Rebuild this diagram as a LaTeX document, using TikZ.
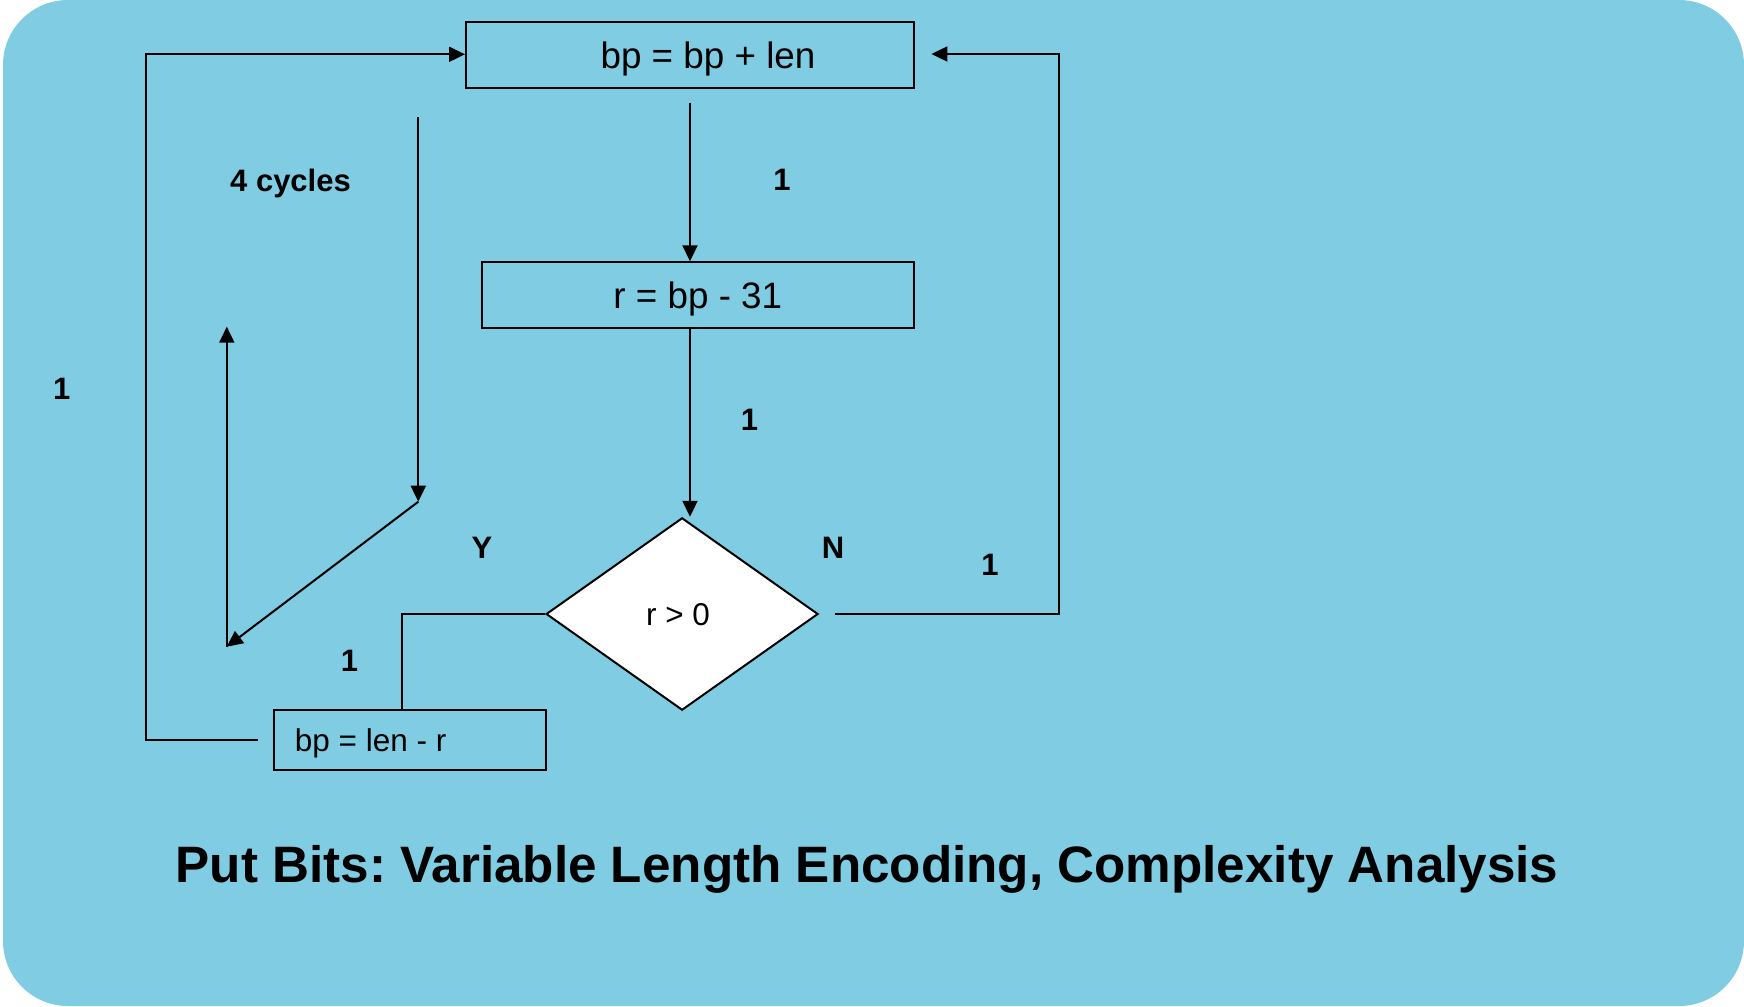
\documentclass[tikz,border=0pt]{standalone}
\usepackage{fontspec}
\setmainfont{Liberation Sans}
\frenchspacing
\usetikzlibrary{arrows.meta,shapes.geometric}
\definecolor{panelblue}{RGB}{127,204,227}
\tikzset{
  box/.style={draw=black, line width=2pt, rectangle, inner sep=0pt},
  decision/.style={draw=black, fill=white, line width=2pt, diamond, inner sep=0pt},
  conn/.style={draw=black, line width=2pt},
  arr/.style={conn, -{Triangle[length=16pt,width=15pt]}},
  stmt/.style={font=\fontsize{36.8pt}{44pt}\selectfont, inner sep=0pt},
  stmtsmall/.style={font=\fontsize{31.5pt}{37pt}\selectfont, inner sep=0pt},
  cost/.style={font=\bfseries\fontsize{31pt}{37pt}\selectfont, inner sep=0pt},
}
\begin{document}
\begin{tikzpicture}[x=1pt, y=-1pt]
  \useasboundingbox (0,0) rectangle (1744,1006);
  % rounded panel
  \fill[panelblue, rounded corners=65pt] (3,0) rectangle (1744,1006);

  % statements and decision
  \node[box, minimum width=448pt, minimum height=66pt] (b1) at (690,55) {};
  \node[stmt, anchor=base] (t1) at (708,69) {bp = bp + len};
  \node[box, minimum width=432.4pt, minimum height=66pt] (b2) at (697.8,295.3) {};
  \node[stmt, anchor=base] (t2) at (697.8,308) {r = bp - 31};
  \node[decision, minimum width=272pt, minimum height=192.4pt] (d) at (682.1,614) {};
  \node[stmtsmall, anchor=base] (td) at (678,625.5) {r > 0};
  \node[box, minimum width=272.3pt, minimum height=60pt] (b3) at (410.25,740) {};
  \node[stmtsmall, anchor=base west] (t3) at (294.7,751.7) {bp = len - r};

  % flow connectors
  \draw[arr] ([yshift=-13.7pt]b1.south) -- (b1.south |- b2.north);
  \draw[arr] (b1.south |- b2.south) -- (b1.south |- d.north);

  \coordinate (nturn) at (1059,54);
  \draw[arr] ([xshift=16pt]d.east) -| (nturn) -- ([xshift=16.4pt]b1.east |- nturn);

  \coordinate (yturn) at (402.2,710);
  \draw[conn] (d.west) -| (yturn);

  \coordinate (lturn) at (145.8,54.3);
  \draw[arr] ([xshift=-15.6pt]b3.west) -| (lturn) -- (b1.west |- lturn);

  % four-cycle loop marker
  \coordinate (c1) at (418.3,117.3);
  \coordinate (c2) at (418.3,501.7);
  \coordinate (c3) at (226.8,646.7);
  \coordinate (c4) at (226.8,326.7);
  \draw[arr] (c1) -- (c2);
  \draw[arr] (c2) -- (c3);
  \draw[arr] (c3) -- (c4);

  % cycle counts and branch labels
  \node[cost, anchor=base west] (cyc) at (230,191.7) {4 cycles};
  \node[cost, anchor=base] (k1) at (781.9,190.7) {1};
  \node[cost, anchor=base] (k2) at (749.6,430.5) {1};
  \node[cost, anchor=base] (k3) at (61.7,399.3) {1};
  \node[cost, anchor=base] (k4) at (349.5,671.7) {1};
  \node[cost, anchor=base] (k5) at (990,575) {1};
  \node[cost, anchor=base] (yl) at (482,558.3) {Y};
  \node[cost, anchor=base] (nl) at (833,558.3) {N};

  % caption
  \node[font=\bfseries\fontsize{51.2pt}{61pt}\selectfont, anchor=base, inner sep=0pt] (title)
    at (867,882) {Put Bits: Variable Length Encoding, Complexity Analysis};
\end{tikzpicture}
\end{document}
